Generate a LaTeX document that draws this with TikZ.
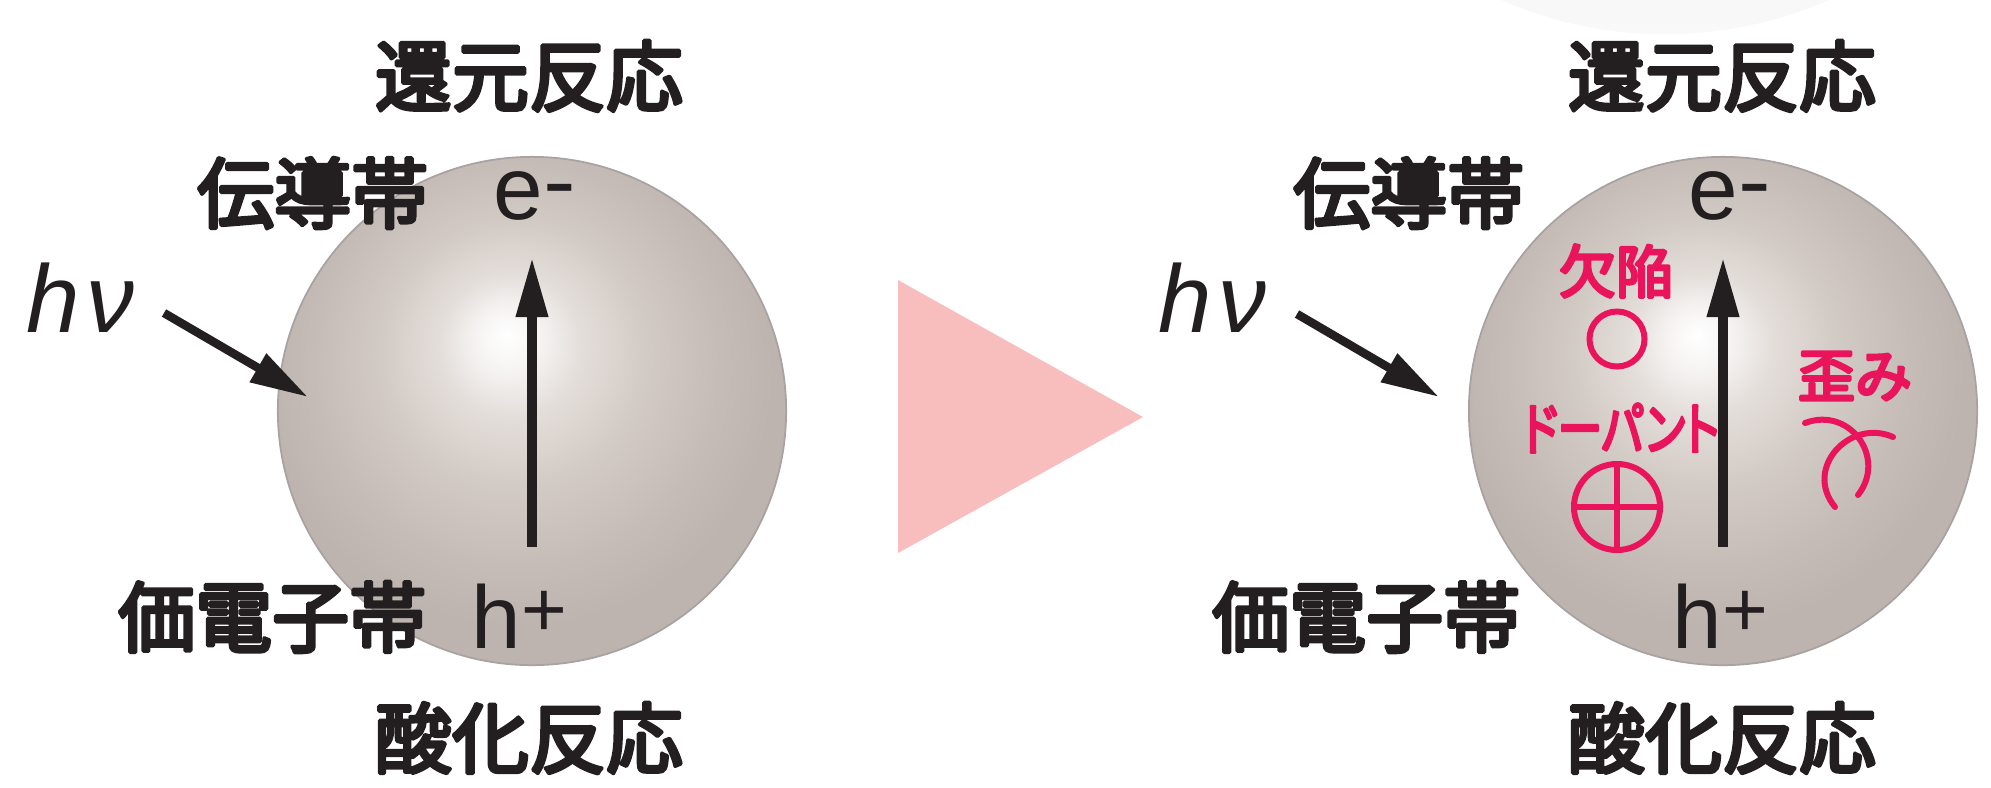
\documentclass[tikz,border=0pt]{standalone}
\usepackage{fontspec}
\usepackage{graphicx}
\setmainfont{Liberation Sans}
\newfontfamily\jp{Noto Sans CJK JP}
\newfontfamily\jpk{Noto Sans CJK JP}[RawFeature=+palt]
\usetikzlibrary{arrows.meta}

\definecolor{ink}{RGB}{35,31,32}
\definecolor{accent}{RGB}{233,20,92}
\definecolor{tri}{RGB}{248,190,190}
\definecolor{sphA}{RGB}{246,244,243}
\definecolor{sphB}{RGB}{228,222,218}
\definecolor{sphC}{RGB}{210,202,197}
\definecolor{sphD}{RGB}{197,188,183}
\definecolor{sphE}{RGB}{189,180,175}
\definecolor{sphrim}{RGB}{168,162,162}

% particle body: off-centre highlight fading to a warm grey rim
\pgfdeclareradialshading{particle}{\pgfpoint{-2.5bp}{7.5bp}}{%
  color(0bp)=(white); color(3bp)=(sphA); color(7bp)=(sphB);
  color(13bp)=(sphC); color(20bp)=(sphD); color(25bp)=(sphE); color(50bp)=(sphE)}

% medium-weight glyphs: fill and outline the regular face
\newcommand\strokeon[1]{\special{pdf:literal direct 2 Tr #1 w 1 j}}
\newcommand\strokeoff{\special{pdf:literal direct 0 Tr}}

\tikzset{
  heading/.style={font={\jp\fontsize{0.77cm}{0.9cm}\selectfont}, text=ink, inner sep=0pt,
    execute at begin node={\strokeon{1.05}}, execute at end node={\strokeoff}},
  band/.style={heading, anchor=east},
  carrier/.style={font={\fontsize{0.89cm}{1cm}\selectfont}, text=ink, inner sep=0pt, anchor=base west},
  photon/.style={font={\itshape\fontsize{0.96cm}{1.1cm}\selectfont}, text=ink, inner sep=0pt, anchor=base west},
  tag/.style={font={\jp\fontsize{0.57cm}{0.7cm}\selectfont}, text=accent, inner sep=0pt,
    execute at begin node={\strokeon{0.85}}, execute at end node={\strokeoff}},
  ball/.style={circle, minimum size=5.08cm, inner sep=0pt, shading=particle, draw=sphrim, line width=0.5pt},
  excite/.style={draw=ink, line width=0.1cm, -{Triangle[length=0.6cm,width=0.3cm]}},
  light/.style={draw=ink, line width=0.085cm, -{Triangle[length=0.58cm,width=0.31cm]}},
  ringmark/.style={circle, draw=accent, line width=0.06cm, inner sep=0pt},
  pinkline/.style={draw=accent, line width=0.06cm, line cap=round},
}

\begin{document}
\begin{tikzpicture}[x=0.01cm, y=-0.01cm]
\useasboundingbox (0,0) rectangle (1991,787);

% faint shadow at the top edge
\begin{scope}
  \clip (0,0) rectangle (1991,787);
  \shade[top color=black!6, bottom color=black!2.5] (1665,-374) circle (4.08cm);
\end{scope}

% ---------- left: plain particle ----------
\node[ball] (s1) at (532,411) {};
\node[heading] (red1) at (529,76) {還元反応};
\node[heading] (ox1) at (529,738) {酸化反応};
\node[band] (cb1) at (429,193) {伝導帯};
\node[band] (vb1) at (427,617) {価電子帯};
\node[carrier] (e1) at (493,219) {e\raisebox{0.08cm}{\scalebox{1.1}[1]{-}}};
\node[carrier] (h1) at (471,648) {h\raisebox{0.12cm}{\scalebox{0.88}{+}}};
\node[photon] (hv1) at (26,332) {h\hspace{0.06cm}ν};

\coordinate (v1s) at (532,547);
\coordinate (v1t) at (532,257);
\draw[excite] (v1s) -- (v1t);
\coordinate (l1s) at (164,313);
\coordinate (l1t) at (308,397);
\draw[light] (l1s) -- (l1t);

% ---------- transition marker ----------
\fill[tri] (898,280) -- (898,553) -- (1143,417) -- cycle;

% ---------- right: modified particle ----------
\node[ball] (s2) at (1723,411) {};
\node[heading] (red2) at (1722,76) {還元反応};
\node[heading] (ox2) at (1722,738) {酸化反応};
\node[band] (cb2) at (1525,193) {伝導帯};
\node[band] (vb2) at (1521,617) {価電子帯};
\node[carrier] (e2) at (1688,219) {e\raisebox{0.08cm}{\scalebox{1.1}[1]{-}}};
\node[carrier] (h2) at (1672,648) {h\raisebox{0.12cm}{\scalebox{0.88}{+}}};
\node[photon] (hv2) at (1158,332) {h\hspace{0.06cm}ν};

\coordinate (v2s) at (1723,547);
\coordinate (v2t) at (1723,257);
\draw[excite] (v2s) -- (v2t);
\coordinate (l2s) at (1297,314);
\coordinate (l2t) at (1439,397);
\draw[light] (l2s) -- (l2t);

% defect
\node[tag] (deflbl) at (1616,271) {欠陥};
\node[ringmark, minimum size=0.55cm] (defect) at (1617,339) {};

% dopant
\node[tag] (doplbl) at (1621,428) {\jpk\scalebox{0.78}[1]{ドーパント}};
\node[ringmark, minimum size=0.86cm] (dopant) at (1617,507) {};
\draw[pinkline, line cap=butt] (dopant.north) -- (dopant.south);
\draw[pinkline, line cap=butt] (dopant.west) -- (dopant.east);

% strain
\node[tag] (strlbl) at (1855,376) {歪み};
\coordinate (sa0) at (1805,423);
\coordinate (sa1) at (1858,495);
\coordinate (sb0) at (1893,437);
\coordinate (sb1) at (1835,507);
\draw[pinkline] (sa0) .. controls (1850,406) and (1887,458) .. (sa1);
\draw[pinkline] (sb0) .. controls (1850,418) and (1803,468) .. (sb1);
\end{tikzpicture}
\end{document}
